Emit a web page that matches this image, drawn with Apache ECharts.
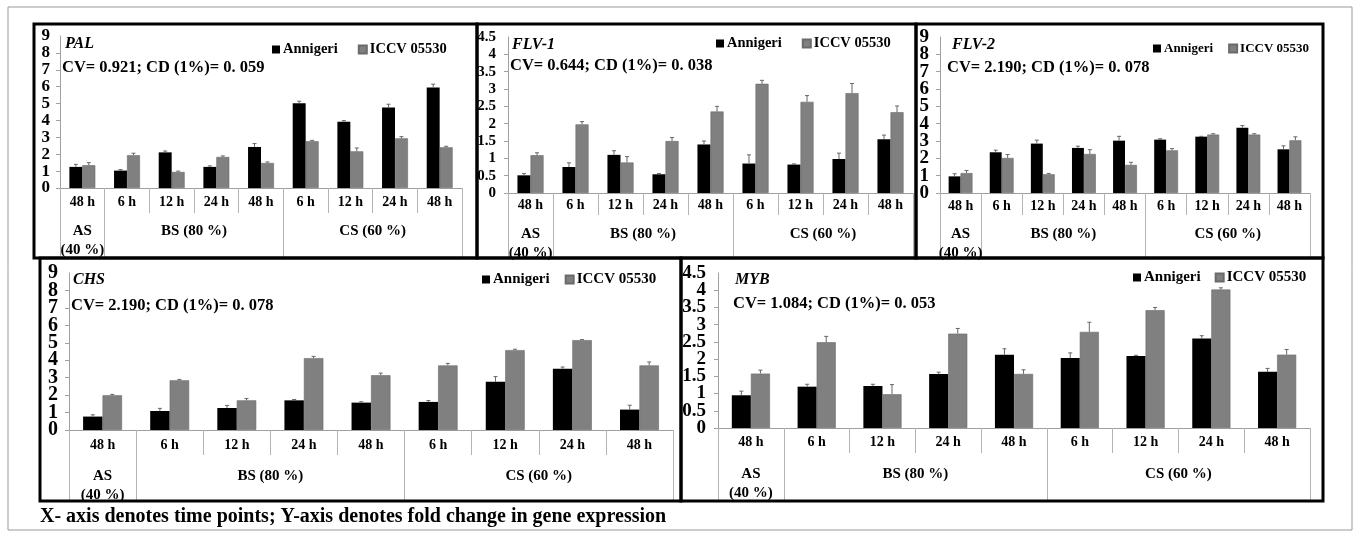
<!DOCTYPE html>
<html><head><meta charset="utf-8">
<script src="https://cdn.jsdelivr.net/npm/echarts@6/dist/echarts.min.js"></script>
<style>html,body{margin:0;padding:0;background:#fff}#c{width:1357px;height:536px}</style>
</head><body><div id="c"></div><script>
// ---------- data ----------
const timeLabels = ['48 h','6 h','12 h','24 h','48 h','6 h','12 h','24 h','48 h'];
const groupLabels = ['AS\n(40 %)','BS (80 %)','CS (60 %)'];
const groupCenters = [0.5, 3, 7];
const groupBounds = [0, 1, 5, 9];
const varieties = ['Annigeri','ICCV 05530'];
const genes = ['PAL','FLV-1','FLV-2','CHS','MYB'];
const stats = ['CV= 0.921; CD (1%)= 0. 059','CV= 0.644; CD (1%)= 0. 038','CV= 2.190; CD (1%)= 0. 078','CV= 2.190; CD (1%)= 0. 078','CV= 1.084; CD (1%)= 0. 053'];
const yMax = [9, 4.5, 9, 9, 4.5];
const yStep = [1, 0.5, 1, 1, 0.5];

const palAnnigeri = [1.25, 1.03, 2.11, 1.25, 2.43, 5.02, 3.93, 4.76, 5.95];
const palIccv     = [1.35, 1.94, 0.95, 1.84, 1.48, 2.77, 2.17, 2.94, 2.41];
const palAnnigeriErr = [0.15, 0.06, 0.08, 0.06, 0.20, 0.12, 0.06, 0.20, 0.20];
const palIccvErr     = [0.15, 0.12, 0.05, 0.06, 0.06, 0.05, 0.20, 0.10, 0.06];

const flv1Annigeri = [0.51, 0.75, 1.10, 0.54, 1.40, 0.85, 0.82, 0.98, 1.55];
const flv1Iccv     = [1.09, 1.98, 0.88, 1.50, 2.35, 3.15, 2.63, 2.88, 2.33];
const flv1AnnigeriErr = [0.05, 0.12, 0.12, 0.02, 0.10, 0.25, 0.02, 0.17, 0.12];
const flv1IccvErr     = [0.07, 0.08, 0.17, 0.10, 0.15, 0.10, 0.18, 0.28, 0.18];

const flv2Annigeri = [0.96, 2.35, 2.85, 2.60, 3.02, 3.08, 3.25, 3.77, 2.52];
const flv2Iccv     = [1.15, 2.02, 1.08, 2.25, 1.62, 2.46, 3.37, 3.37, 3.04];
const flv2AnnigeriErr = [0.15, 0.12, 0.20, 0.10, 0.25, 0.05, 0.02, 0.12, 0.20];
const flv2IccvErr     = [0.15, 0.20, 0.05, 0.25, 0.15, 0.10, 0.05, 0.05, 0.20];

const chsAnnigeri = [0.77, 1.09, 1.26, 1.70, 1.57, 1.61, 2.76, 3.51, 1.17];
const chsIccv     = [1.99, 2.85, 1.70, 4.12, 3.14, 3.70, 4.58, 5.15, 3.70];
const chsAnnigeriErr = [0.10, 0.15, 0.15, 0.05, 0.05, 0.08, 0.30, 0.10, 0.25];
const chsIccvErr     = [0.05, 0.05, 0.10, 0.10, 0.12, 0.12, 0.05, 0.03, 0.20];

const mybAnnigeri = [0.95, 1.20, 1.22, 1.57, 2.13, 2.03, 2.09, 2.60, 1.63];
const mybIccv     = [1.58, 2.49, 0.98, 2.74, 1.57, 2.79, 3.42, 4.02, 2.13];
const mybAnnigeriErr = [0.12, 0.07, 0.05, 0.05, 0.17, 0.15, 0.02, 0.08, 0.10];
const mybIccvErr     = [0.10, 0.17, 0.28, 0.15, 0.12, 0.28, 0.08, 0.05, 0.15];

const seriesA = [palAnnigeri, flv1Annigeri, flv2Annigeri, chsAnnigeri, mybAnnigeri];
const seriesB = [palIccv, flv1Iccv, flv2Iccv, chsIccv, mybIccv];
const errA = [palAnnigeriErr, flv1AnnigeriErr, flv2AnnigeriErr, chsAnnigeriErr, mybAnnigeriErr];
const errB = [palIccvErr, flv1IccvErr, flv2IccvErr, chsIccvErr, mybIccvErr];

// ---------- layout ----------
const F = "'Liberation Serif','Times New Roman',serif";
const panels = [
  {grid:[60,36,402,152],  frame:[34,24,443,234],  tM:7, tLen:25, gM:34, gLen:70, yFont:17, yM:10, title:[65,36], stat:[62,59], leg:[272,42], legF:14.5, legGap:20},
  {grid:[508,37,405,156], frame:[477,24,439,234], tM:5, tLen:22, gM:32, gLen:65, yFont:15, yM:12, title:[512,37], stat:[510,57], leg:[716,36], legF:14.5, legGap:20},
  {grid:[940,37,370,156], frame:[916,24,407,234], tM:6, tLen:22, gM:32, gLen:65, yFont:19, yM:11, title:[952,37], stat:[947,59], leg:[1153,42], legF:13, legGap:15},
  {grid:[69,273,604,157], frame:[40,258,641,243], tM:8, tLen:25, gM:37, gLen:71, yFont:20, yM:11, title:[73,272], stat:[71,297], leg:[482,272], legF:15, legGap:15},
  {grid:[718,273,592,155],frame:[681,258,642,243],tM:7, tLen:25, gM:37, gLen:73, yFont:19, yM:12, title:[735,272], stat:[733,295], leg:[1133,270], legF:15, legGap:14}
];
const CAT_GAP = 0.42;
const GRAY = '#808080';
const AX = '#a0a0a0';

const option = {animation:false, backgroundColor:'#fff', grid:[], xAxis:[], yAxis:[], series:[], legend:[], title:[], graphic:[]};

function errSeries(gi, vals, errs, side) {
  return {
    type:'custom', name:'err', xAxisIndex:gi*2, yAxisIndex:gi*2, z:10, silent:true,
    encode:{x:0, y:1},
    data: vals.map((v,i)=>[i, v, errs[i]]),
    renderItem(params, api) {
      const i = api.value(0), v = api.value(1), e = api.value(2);
      const catW = api.size([1, 0])[0];
      const bw = catW * (1 - CAT_GAP) / 2;
      const cx = api.coord([i, v])[0] + side * bw / 2;
      const y0 = api.coord([i, v])[1];
      const y1 = api.coord([i, v + e])[1];
      const st = {stroke:'#666', lineWidth:1};
      return {type:'group', children:[
        {type:'line', shape:{x1:cx, y1:y0, x2:cx, y2:y1}, style:st},
        {type:'line', shape:{x1:cx-2, y1:y1, x2:cx+2, y2:y1}, style:st}
      ]};
    }
  };
}

// two y axes per grid: one carries the even-step labels, the other the odd-step labels,
// so the tightly packed large labels are all shown
function mkY(i, p, parity) {
  return {
    type:'value', gridIndex:i, position:'left', offset:0, min:0, max:yMax[i], interval:yStep[i],
    axisLine:{show:parity===0, lineStyle:{color:AX, width:1}},
    axisTick:{show:parity===0, length:4, lineStyle:{color:AX}},
    splitLine:{show:false},
    axisLabel:{showMinLabel:parity===0, showMaxLabel:parity===1, hideOverlap:false, margin:p.yM,
      color:'#000', fontFamily:F, fontWeight:'bold', fontSize:p.yFont,
      formatter:(v)=> (Math.round(v / yStep[i]) % 2 === parity) ? String(v) : ''}
  };
}

panels.forEach((p, i) => {
  option.grid.push({left:p.grid[0], top:p.grid[1], width:p.grid[2], height:p.grid[3]});
  option.xAxis.push({
    type:'category', gridIndex:i, data:timeLabels,
    axisLine:{show:true, lineStyle:{color:AX, width:1}},
    axisTick:{show:true, alignWithLabel:false, interval:0, length:p.tLen, lineStyle:{color:'#b4b4b4'}},
    axisLabel:{interval:0, hideOverlap:false, color:'#000', fontFamily:F, fontWeight:'bold', fontSize:14, margin:p.tM}
  });
  option.xAxis.push({
    type:'value', gridIndex:i, min:0, max:9, position:'bottom',
    axisLine:{show:false}, splitLine:{show:false},
    axisTick:{show:true, customValues:groupBounds, length:p.gLen, lineStyle:{color:'#b4b4b4'}},
    axisLabel:{show:true, customValues:groupCenters, hideOverlap:false, margin:p.gM, color:'#000', fontFamily:F, fontWeight:'bold', fontSize:15, lineHeight:19,
      formatter:(v)=>{ const k = groupCenters.indexOf(v); return k>=0 ? groupLabels[k] : ''; }}
  });
  option.yAxis.push(mkY(i, p, 0));
  option.yAxis.push(mkY(i, p, 1));
  option.series.push({type:'bar', name:varieties[0], xAxisIndex:i*2, yAxisIndex:i*2, data:seriesA[i],
    barGap:'0%', barCategoryGap:(CAT_GAP*100)+'%', itemStyle:{color:'#000'}});
  option.series.push({type:'bar', name:varieties[1], xAxisIndex:i*2, yAxisIndex:i*2, data:seriesB[i],
    barGap:'0%', barCategoryGap:(CAT_GAP*100)+'%', itemStyle:{color:GRAY, borderColor:'#6a6a6a', borderWidth:0.6}});
  option.series.push(errSeries(i, seriesA[i], errA[i], -1));
  option.series.push(errSeries(i, seriesB[i], errB[i], 1));
  option.legend.push({left:p.leg[0], top:p.leg[1], padding:0, icon:'rect', itemWidth:8, itemHeight:8, itemGap:p.legGap,
    data:varieties, selectedMode:false,
    textStyle:{fontFamily:F, fontWeight:'bold', fontSize:p.legF, color:'#000', padding:[0,0,0,-2]}});
  option.title.push({text:genes[i], left:p.title[0], top:p.title[1], padding:0,
    textStyle:{fontFamily:F, fontStyle:'italic', fontWeight:'bold', fontSize:16, color:'#000'}});
  option.title.push({text:stats[i], left:p.stat[0], top:p.stat[1], padding:0,
    textStyle:{fontFamily:F, fontWeight:'bold', fontSize:16.5, color:'#000'}});
  option.graphic.push({type:'rect', shape:{x:p.frame[0], y:p.frame[1], width:p.frame[2], height:p.frame[3]},
    style:{fill:null, stroke:'#000', lineWidth:3}, z:100, silent:true});
});
option.graphic.push({type:'rect', shape:{x:8, y:7, width:1344, height:523}, style:{fill:null, stroke:'#999', lineWidth:1}, z:100, silent:true});
option.title.push({text:'X- axis denotes time points; Y-axis denotes fold change in gene expression', left:40, top:507, padding:0,
  textStyle:{fontFamily:F, fontWeight:'bold', fontSize:20, color:'#000'}});

const chart = echarts.init(document.getElementById('c'), null, {renderer:'canvas'});
chart.setOption(option);
</script></body></html>
